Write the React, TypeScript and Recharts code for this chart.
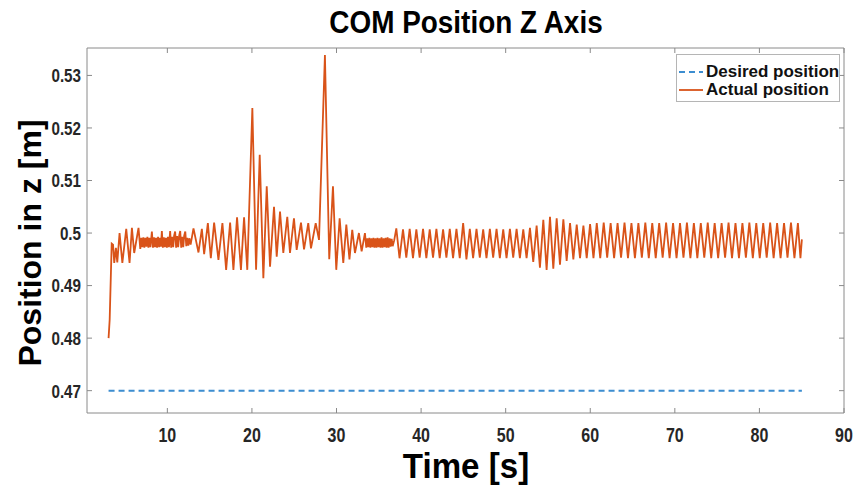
import React from 'react';
import { LineChart, Line, XAxis, YAxis } from 'recharts';

type Pt = [number, number];

// [time s, z m] turning points
const startup: Pt[] = [
  [3.05, 0.48], [3.18, 0.4835], [3.42, 0.498], [3.58, 0.4978], [3.72, 0.4943], [3.92, 0.4972],
  [4.08, 0.4944], [4.35, 0.5], [4.68, 0.4943], [5.14, 0.5008], [5.53, 0.4943], [5.81, 0.501],
  [6.08, 0.4962], [6.59, 0.501], [6.8, 0.497],
];

const settle1: Pt[] = [
  [6.92, 0.4991], [7.04, 0.4973], [7.16, 0.4992], [7.28, 0.4972], [7.4, 0.4991], [7.52, 0.4974],
  [7.64, 0.4993], [7.76, 0.4972], [7.88, 0.4991], [8.0, 0.4973], [8.17, 0.5003], [8.3, 0.4972],
  [8.42, 0.4992], [8.54, 0.4973], [8.66, 0.4991], [8.78, 0.4972], [8.9, 0.4993], [9.02, 0.4973],
  [9.14, 0.4991], [9.24, 0.4974], [9.35, 0.5004], [9.47, 0.4972], [9.59, 0.4992], [9.71, 0.4973],
  [9.83, 0.4991], [9.95, 0.4972], [10.07, 0.4993], [10.19, 0.4973], [10.33, 0.5004], [10.45, 0.4972],
  [10.57, 0.4993], [10.69, 0.4973], [10.8, 0.4995], [10.92, 0.5003], [11.04, 0.4972], [11.16, 0.4994],
  [11.28, 0.4973], [11.4, 0.4995], [11.52, 0.5004], [11.64, 0.4972], [11.76, 0.4993], [11.88, 0.4973],
  [11.99, 0.4995], [12.12, 0.5003], [12.24, 0.4975], [12.36, 0.4991], [12.48, 0.4976], [12.6, 0.499],
  [12.75, 0.4978],
];

const burst1: Pt[] = [
  [13.09, 0.5009], [13.68, 0.4963], [14.08, 0.5008], [14.35, 0.496], [14.79, 0.5019], [15.14, 0.4952],
  [15.53, 0.502], [16.04, 0.4949], [16.51, 0.5019], [16.95, 0.493], [17.42, 0.502], [17.81, 0.493],
  [18.24, 0.503], [18.7, 0.493], [19.07, 0.503], [19.45, 0.493], [20.05, 0.5238], [20.49, 0.493],
  [20.92, 0.5149], [21.35, 0.4914], [21.75, 0.5089], [22.14, 0.4936], [22.61, 0.505], [22.93, 0.4955],
  [23.32, 0.5041], [23.71, 0.4962], [24.18, 0.5031], [24.5, 0.4962], [24.97, 0.5028], [25.29, 0.4968],
  [25.8, 0.502], [26.16, 0.4969], [26.66, 0.5019], [26.98, 0.4971], [27.54, 0.5019], [27.93, 0.4987],
];

const burst2: Pt[] = [
  [28.63, 0.5339], [29.14, 0.495], [29.58, 0.5089], [29.97, 0.493], [30.37, 0.5028], [30.8, 0.4943],
  [31.16, 0.5016], [31.53, 0.495], [31.86, 0.5006], [32.18, 0.4962], [32.65, 0.5], [32.97, 0.4965],
  [33.36, 0.5],
];

const settle2: Pt[] = [
  [33.52, 0.4972], [33.64, 0.499], [33.76, 0.4973], [33.88, 0.4991], [34.0, 0.4972], [34.12, 0.499],
  [34.24, 0.4973], [34.36, 0.4991], [34.48, 0.4972], [34.6, 0.499], [34.72, 0.4972], [34.84, 0.4991],
  [34.96, 0.4973], [35.08, 0.499], [35.2, 0.4972], [35.32, 0.4992], [35.44, 0.4972], [35.56, 0.499],
  [35.68, 0.4973], [35.8, 0.4991], [35.92, 0.4972], [36.04, 0.4992], [36.16, 0.4972], [36.28, 0.499],
  [36.4, 0.4974], [36.52, 0.4989], [36.64, 0.4975], [36.82, 0.4986],
];

const middle: Pt[] = [
  [37.07, 0.5009], [37.45, 0.4952], [37.86, 0.5007], [38.25, 0.4953], [38.65, 0.5008], [39.04, 0.4952],
  [39.44, 0.5007], [39.83, 0.4953], [40.23, 0.5008], [40.62, 0.4952], [41.02, 0.5007], [41.41, 0.4953],
  [41.81, 0.5008], [42.2, 0.4952], [42.6, 0.5007], [42.99, 0.4953], [43.39, 0.5008], [43.78, 0.4952],
  [44.18, 0.5008], [44.57, 0.4952], [44.97, 0.5019], [45.36, 0.495], [45.76, 0.5008], [46.15, 0.4952],
  [46.55, 0.5008], [46.94, 0.4953], [47.34, 0.5007], [47.73, 0.4952], [48.13, 0.5008], [48.52, 0.4953],
  [48.92, 0.5008], [49.31, 0.4952], [49.71, 0.5007], [50.1, 0.4952], [50.5, 0.5008], [50.89, 0.4953],
  [51.29, 0.5008], [51.68, 0.4952], [52.08, 0.5007], [52.47, 0.4952], [52.87, 0.501], [53.26, 0.4945],
  [53.66, 0.5014], [54.05, 0.4934], [54.45, 0.5025], [54.84, 0.493], [55.24, 0.5031], [55.63, 0.4932],
  [56.03, 0.5028], [56.42, 0.494], [56.82, 0.5026], [57.21, 0.4947], [57.61, 0.5019], [58.0, 0.495],
  [58.4, 0.5016], [58.79, 0.4952], [59.19, 0.5014], [59.58, 0.4952], [59.98, 0.5017], [60.38, 0.4952],
];

const steady: Pt[] = [
  [60.77, 0.5019], [61.18, 0.4952], [61.59, 0.502], [62.0, 0.4953], [62.41, 0.5019], [62.82, 0.4952],
  [63.23, 0.5019], [63.64, 0.4953], [64.05, 0.502], [64.46, 0.4952], [64.87, 0.5019], [65.28, 0.4952],
  [65.69, 0.5019], [66.1, 0.4953], [66.51, 0.502], [66.92, 0.4952], [67.33, 0.5019], [67.74, 0.4952],
  [68.15, 0.5019], [68.56, 0.4953], [68.97, 0.502], [69.38, 0.4952], [69.79, 0.5019], [70.2, 0.4952],
  [70.61, 0.5019], [71.02, 0.4953], [71.43, 0.502], [71.84, 0.4952], [72.25, 0.5019], [72.66, 0.4952],
  [73.07, 0.5019], [73.48, 0.4953], [73.89, 0.502], [74.3, 0.4952], [74.71, 0.5019], [75.12, 0.4952],
  [75.53, 0.5019], [75.94, 0.4953], [76.35, 0.502], [76.76, 0.4952], [77.17, 0.5019], [77.58, 0.4952],
  [77.99, 0.5019], [78.4, 0.4953], [78.81, 0.502], [79.22, 0.4952], [79.63, 0.5019], [80.04, 0.4952],
  [80.45, 0.5019], [80.86, 0.4953], [81.27, 0.502], [81.68, 0.4952], [82.09, 0.5019], [82.5, 0.4952],
  [82.91, 0.5019], [83.32, 0.4953], [83.73, 0.502], [84.14, 0.4952], [84.55, 0.5019], [84.85, 0.4952],
  [85.02, 0.4988],
];

const desired: Pt[] = [[3.05, 0.47], [85.02, 0.47]];

const xTicks = [10, 20, 30, 40, 50, 60, 70, 80, 90];
const yTicks = [0.47, 0.48, 0.49, 0.5, 0.51, 0.52, 0.53];

const toRows = (pts: Pt[]) => pts.map(([t, z]) => ({ t, z }));
const actualData = toRows([...startup, ...settle1, ...burst1, ...burst2, ...settle2, ...middle, ...steady]);
const desiredData = toRows(desired);

const FONT = '"Liberation Sans", Arial, Helvetica, sans-serif';
const AXIS = '#8a8a8a';
const TEXT = '#262626';
const ORANGE = '#D95319';
const BLUE = '#3C8DD0';

const BottomTick = (props: any) => {
  const { x, y, payload } = props;
  return (
    <g transform={`translate(${x},${y})`}>
      <line x1={0} y1={0} x2={0} y2={-5} stroke={AXIS} />
      <g transform="translate(0,29) scale(0.8,1)">
        <text textAnchor="middle" fontFamily={FONT} fontWeight="bold" fontSize={20} fill={TEXT}>
          {payload.value}
        </text>
      </g>
    </g>
  );
};

const TopTick = (props: any) => {
  const { x, y } = props;
  return <line x1={x} y1={y} x2={x} y2={y + 5} stroke={AXIS} />;
};

const LeftTick = (props: any) => {
  const { x, y, payload } = props;
  return (
    <g transform={`translate(${x},${y})`}>
      <line x1={0} y1={0} x2={5} y2={0} stroke={AXIS} />
      <g transform="translate(-6,0) scale(0.8,1)">
        <text textAnchor="end" dy="0.36em" fontFamily={FONT} fontWeight="bold" fontSize={19} fill={TEXT}>
          {String(payload.value)}
        </text>
      </g>
    </g>
  );
};

const RightTick = (props: any) => {
  const { x, y } = props;
  return <line x1={x} y1={y} x2={x - 5} y2={y} stroke={AXIS} />;
};

export default function App() {
  return (
    <div style={{ position: 'absolute', left: 0, top: 0, width: 854, height: 492, background: '#fff' }}>
      <LineChart width={854} height={492} margin={{ top: 0, right: 0, bottom: 0, left: 0 }}>
        <XAxis
          xAxisId={0}
          dataKey="t"
          type="number"
          domain={[0.5, 90]}
          ticks={xTicks}
          allowDataOverflow
          height={79}
          stroke={AXIS}
          tickSize={0}
          tickMargin={0}
          tickLine={false}
          tick={BottomTick}
        />
        <XAxis
          xAxisId="top"
          orientation="top"
          dataKey="t"
          type="number"
          domain={[0.5, 90]}
          ticks={xTicks}
          allowDataOverflow
          height={48}
          stroke={AXIS}
          tickSize={0}
          tickMargin={0}
          tickLine={false}
          tick={TopTick}
        />
        <YAxis
          yAxisId={0}
          type="number"
          domain={[0.46575, 0.53522]}
          ticks={yTicks}
          allowDataOverflow
          width={87}
          stroke={AXIS}
          tickSize={0}
          tickMargin={0}
          tickLine={false}
          tick={LeftTick}
        />
        <YAxis
          yAxisId="right"
          orientation="right"
          type="number"
          domain={[0.46575, 0.53522]}
          ticks={yTicks}
          allowDataOverflow
          width={10}
          stroke={AXIS}
          tickSize={0}
          tickMargin={0}
          tickLine={false}
          tick={RightTick}
        />
        <Line
          data={desiredData}
          dataKey="z"
          name="Desired position"
          type="linear"
          stroke={BLUE}
          strokeWidth={2}
          strokeDasharray="6 4"
          dot={false}
          isAnimationActive={false}
        />
        <Line
          data={actualData}
          dataKey="z"
          name="Actual position"
          type="linear"
          stroke={ORANGE}
          strokeWidth={1.8}
          dot={false}
          isAnimationActive={false}
        />
      </LineChart>
      <svg
        width={854}
        height={492}
        style={{ position: 'absolute', left: 0, top: 0, pointerEvents: 'none' }}
        fontFamily={FONT}
        fontWeight="bold"
      >
        <g transform="translate(466,33) scale(0.9,1)">
          <text textAnchor="middle" fontSize={31} fill="#000">COM Position Z Axis</text>
        </g>
        <g transform="translate(466,478) scale(0.92,1)">
          <text textAnchor="middle" fontSize={36} fill="#000">Time [s]</text>
        </g>
        <g transform="translate(41,243) rotate(-90)">
          <text textAnchor="middle" fontSize={32} fill="#000">Position in z [m]</text>
        </g>
        <rect x={676.5} y={54.5} width={163} height={47} fill="#fff" stroke="#b5b5b5" />
        <line x1={679} y1={72} x2={703} y2={72} stroke={BLUE} strokeWidth={2} strokeDasharray="6 4" />
        <text x={706} y={77} fontSize={17} fill="#111">Desired position</text>
        <line x1={679} y1={90} x2={703} y2={90} stroke={ORANGE} strokeWidth={1.8} />
        <text x={706} y={95} fontSize={17} fill="#111">Actual position</text>
      </svg>
    </div>
  );
}
